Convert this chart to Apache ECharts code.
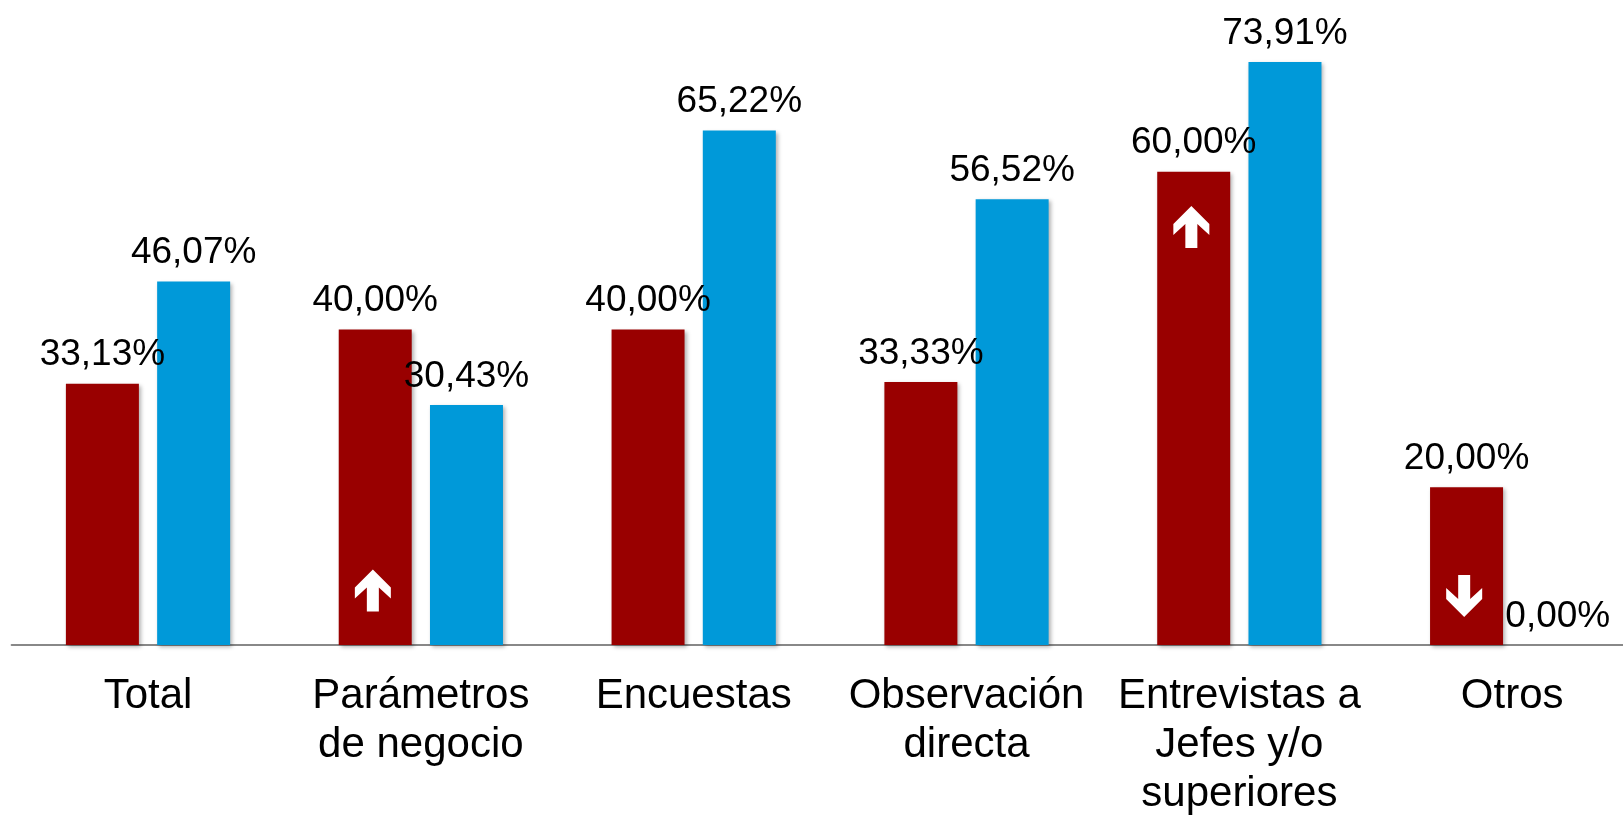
<!DOCTYPE html>
<html>
<head>
<meta charset="utf-8">
<script src="https://cdn.jsdelivr.net/npm/echarts@6/dist/echarts.min.js"></script>
<style>
  html, body { margin: 0; padding: 0; background: #fff; }
  #chart { width: 1623px; height: 816px; }
</style>
</head>
<body>
<div id="chart"></div>
<script>
// categorias y valores (%)
var categorias = ['Total', 'Parámetros\nde negocio', 'Encuestas', 'Observación\ndirecta', 'Entrevistas a\nJefes y/o\nsuperiores', 'Otros'];
var serieRoja = [33.13, 40.00, 40.00, 33.33, 60.00, 20.00];
var serieAzul = [46.07, 30.43, 65.22, 56.52, 73.91, 0.00];
// flechas dentro de las barras rojas: [categoria, altura, direccion]
var flechas = [[1, 6.9, 'up'], [4, 53, 'up'], [5, 6.2, 'down']];

var chart = echarts.init(document.getElementById('chart'));

var fmt = function (p) {
  return p.value.toFixed(2).replace('.', ',') + '%';
};
var flechaPath = 'path://M18,0L36,18L36,29L24,18L24,42L12,42L12,18L0,29L0,18Z';

var sombra = {
  shadowBlur: 4,
  shadowOffsetX: 2,
  shadowOffsetY: 2,
  shadowColor: 'rgba(0,0,0,0.3)'
};

var etiqueta = {
  show: true,
  position: 'top',
  distance: 10,
  formatter: fmt,
  color: '#000',
  fontFamily: 'Liberation Sans, Arial, sans-serif',
  fontSize: 37
};

var option = {
  animation: false,
  grid: { left: 11.6, top: 14, width: 1637, bottom: 171, outerBoundsMode: 'none', containLabel: false },
  xAxis: {
    type: 'category',
    data: categorias,
    axisLine: { lineStyle: { color: '#888', width: 2 } },
    axisTick: { show: false },
    axisLabel: {
      interval: 0,
      margin: 27,
      color: '#000',
      fontFamily: 'Liberation Sans, Arial, sans-serif',
      fontSize: 42,
      lineHeight: 49
    }
  },
  yAxis: { type: 'value', min: 0, max: 80, show: false },
  series: [
    {
      type: 'bar',
      data: serieRoja,
      barWidth: 73,
      barGap: '25%',
      itemStyle: Object.assign({ color: '#990000' }, sombra),
      label: etiqueta
    },
    {
      type: 'bar',
      data: serieAzul,
      barWidth: 73,
      barGap: '25%',
      itemStyle: Object.assign({ color: '#0099D9' }, sombra),
      label: etiqueta
    },
    {
      type: 'scatter',
      data: flechas.map(function (f) {
        return {
          value: [f[0], f[1]],
          symbolRotate: f[2] === 'down' ? 180 : 0
        };
      }),
      symbol: flechaPath,
      symbolSize: [36, 42],
      symbolOffset: [-48, 0],
      itemStyle: { color: '#fff', opacity: 1 },
      z: 5
    }
  ]
};

chart.setOption(option);
</script>
</body>
</html>
